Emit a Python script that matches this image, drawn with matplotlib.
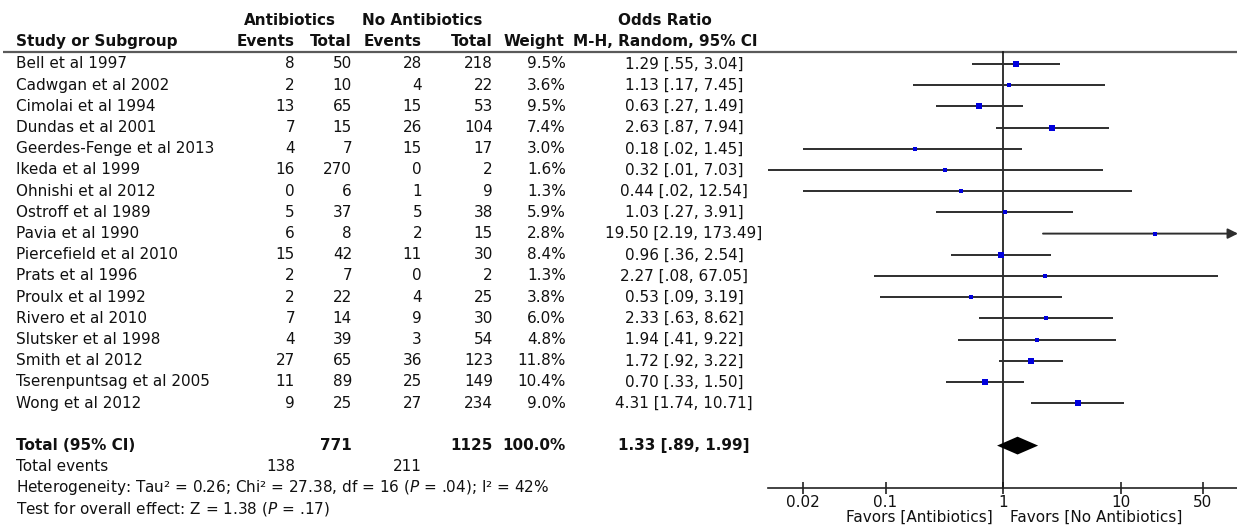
import matplotlib
matplotlib.use("Agg")
import matplotlib.pyplot as plt
from matplotlib.ticker import NullLocator

studies = [
    "Bell et al 1997", "Cadwgan et al 2002", "Cimolai et al 1994",
    "Dundas et al 2001", "Geerdes-Fenge et al 2013", "Ikeda et al 1999",
    "Ohnishi et al 2012", "Ostroff et al 1989", "Pavia et al 1990",
    "Piercefield et al 2010", "Prats et al 1996", "Proulx et al 1992",
    "Rivero et al 2010", "Slutsker et al 1998", "Smith et al 2012",
    "Tserenpuntsag et al 2005", "Wong et al 2012",
]
ab_events = [8, 2, 13, 7, 4, 16, 0, 5, 6, 15, 2, 2, 7, 4, 27, 11, 9]
ab_total = [50, 10, 65, 15, 7, 270, 6, 37, 8, 42, 7, 22, 14, 39, 65, 89, 25]
noab_events = [28, 4, 15, 26, 15, 0, 1, 5, 2, 11, 0, 4, 9, 3, 36, 25, 27]
noab_total = [218, 22, 53, 104, 17, 2, 9, 38, 15, 30, 2, 25, 30, 54, 123, 149, 234]
weights = [9.5, 3.6, 9.5, 7.4, 3.0, 1.6, 1.3, 5.9, 2.8, 8.4, 1.3, 3.8, 6.0, 4.8, 11.8, 10.4, 9.0]
odds = [1.29, 1.13, 0.63, 2.63, 0.18, 0.32, 0.44, 1.03, 19.50, 0.96, 2.27, 0.53, 2.33, 1.94, 1.72, 0.70, 4.31]
ci_low = [0.55, 0.17, 0.27, 0.87, 0.02, 0.01, 0.02, 0.27, 2.19, 0.36, 0.08, 0.09, 0.63, 0.41, 0.92, 0.33, 1.74]
ci_high = [3.04, 7.45, 1.49, 7.94, 1.45, 7.03, 12.54, 3.91, 173.49, 2.54, 67.05, 3.19, 8.62, 9.22, 3.22, 1.50, 10.71]

total_ab = 771
total_noab = 1125
total_weight = 100.0
pooled_or = 1.33
pooled_low = 0.89
pooled_high = 1.99
events_ab = 138
events_noab = 211

heterogeneity = r"Heterogeneity: Tau² = 0.26; Chi² = 27.38, df = 16 ($\mathit{P}$ = .04); I² = 42%"
overall = r"Test for overall effect: Z = 1.38 ($\mathit{P}$ = .17)"

tick_values = [0.02, 0.1, 1, 10, 50]
tick_labels = ["0.02", "0.1", "1", "10", "50"]


def short(v):
    s = f"{v:.2f}"
    return s[1:] if s.startswith("0.") else s


def or_label(est, lo, hi):
    return f"{est:.2f} [{short(lo)}, {short(hi)}]"


# layout (pixels)
W, H = 1237, 525
ROW0, ROW_H = 64, 21.2
FS = 11
TXT = "#111111"
LINE = "#2e2e2e"

n = len(studies)
total_row = n + 1
events_row = n + 2
het_row = n + 3
test_row = n + 4
hdr1 = (21 - ROW0) / ROW_H
hdr2 = (42 - ROW0) / ROW_H
rule_y = (52 - ROW0) / ROW_H
ylim = ((H - ROW0) / ROW_H, -ROW0 / ROW_H)

fig = plt.figure(figsize=(W / 100, H / 100), dpi=100)

# ---------- table ----------
tab = fig.add_axes([0, 0, 1, 1])
tab.set_xlim(0, W)
tab.set_ylim(ylim)
tab.axis("off")

x_name, x_ev1, x_tot1, x_ev2, x_tot2, x_w, x_or = 16, 295, 352, 422, 493, 566, 684

def put(x, y, s, ha="right", bold=False):
    tab.text(x, y, s, ha=ha, va="center", fontsize=FS, color=TXT,
             fontweight="bold" if bold else "normal")

put(290, hdr1, "Antibiotics", ha="center", bold=True)
put(422, hdr1, "No Antibiotics", ha="center", bold=True)
put(665, hdr1, "Odds Ratio", ha="center", bold=True)
put(x_name, hdr2, "Study or Subgroup", ha="left", bold=True)
put(x_ev1, hdr2, "Events", bold=True)
put(x_tot1, hdr2, "Total", bold=True)
put(x_ev2, hdr2, "Events", bold=True)
put(x_tot2, hdr2, "Total", bold=True)
put(x_w - 2, hdr2, "Weight", bold=True)
put(665, hdr2, "M-H, Random, 95% CI", ha="center", bold=True)
tab.plot([3, W], [rule_y, rule_y], color="#5a5a5a", lw=1.6, solid_capstyle="butt")

for i in range(n):
    put(x_name, i, studies[i], ha="left")
    put(x_ev1, i, str(ab_events[i]))
    put(x_tot1, i, str(ab_total[i]))
    put(x_ev2, i, str(noab_events[i]))
    put(x_tot2, i, str(noab_total[i]))
    put(x_w, i, f"{weights[i]:.1f}%")
    put(x_or, i, or_label(odds[i], ci_low[i], ci_high[i]), ha="center")

put(x_name, total_row, "Total (95% CI)", ha="left", bold=True)
put(x_tot1, total_row, str(total_ab), bold=True)
put(x_tot2, total_row, str(total_noab), bold=True)
put(x_w, total_row, f"{total_weight:.1f}%", bold=True)
put(x_or, total_row, or_label(pooled_or, pooled_low, pooled_high), ha="center", bold=True)
put(x_name, events_row, "Total events", ha="left")
put(x_ev1, events_row, str(events_ab))
put(x_ev2, events_row, str(events_noab))
put(x_name, het_row, heterogeneity, ha="left")
put(x_name, test_row, overall, ha="left")

# ---------- forest plot ----------
ax_left, ax_right = 768, 1238
ax = fig.add_axes([ax_left / W, 0, (ax_right - ax_left) / W, 1])
ax.patch.set_alpha(0)
ax.set_xscale("log")
xmin, xmax = 0.01, 100
ax.set_xlim(xmin, xmax)
ax.set_ylim(ylim)
for side in ["top", "left", "right"]:
    ax.spines[side].set_visible(False)
ax.spines["bottom"].set_position(("data", het_row))
ax.spines["bottom"].set_color("#222222")
ax.spines["bottom"].set_linewidth(1.2)
ax.set_yticks([])
ax.set_xticks(tick_values, tick_labels)
ax.xaxis.set_minor_locator(NullLocator())
ax.tick_params(axis="x", direction="inout", length=8, width=1.2,
               labelsize=FS, pad=1, colors="#222222", labelcolor=TXT)

ax.plot([1, 1], [rule_y, het_row], color="#111111", lw=1.2, zorder=2)

for i in range(n):
    lo, hi = ci_low[i], ci_high[i]
    if hi > xmax:
        ax.annotate("", xy=(xmax, i), xytext=(lo, i), annotation_clip=False,
                    arrowprops=dict(arrowstyle="-|>,head_length=0.6,head_width=0.3",
                                    color=LINE, lw=1.4, shrinkA=0, shrinkB=0))
    else:
        ax.plot([lo, hi], [i, i], color=LINE, lw=1.4, solid_capstyle="butt", zorder=3)
    side_px = 1.3 + 1.5 * weights[i] ** 0.5
    ax.plot(odds[i], i, "s", ms=side_px * 0.72, color="#0000dd", mew=0, zorder=4)

h = 0.42
ax.fill([pooled_low, pooled_or, pooled_high, pooled_or],
        [total_row, total_row - h, total_row, total_row + h],
        color="black", lw=0, zorder=4)

ax.text(0.82, 21.4, "Favors [Antibiotics]", ha="right", va="center", fontsize=FS, color=TXT)
ax.text(1.15, 21.4, "Favors [No Antibiotics]", ha="left", va="center", fontsize=FS, color=TXT)

fig.savefig("out.png", dpi=100)
